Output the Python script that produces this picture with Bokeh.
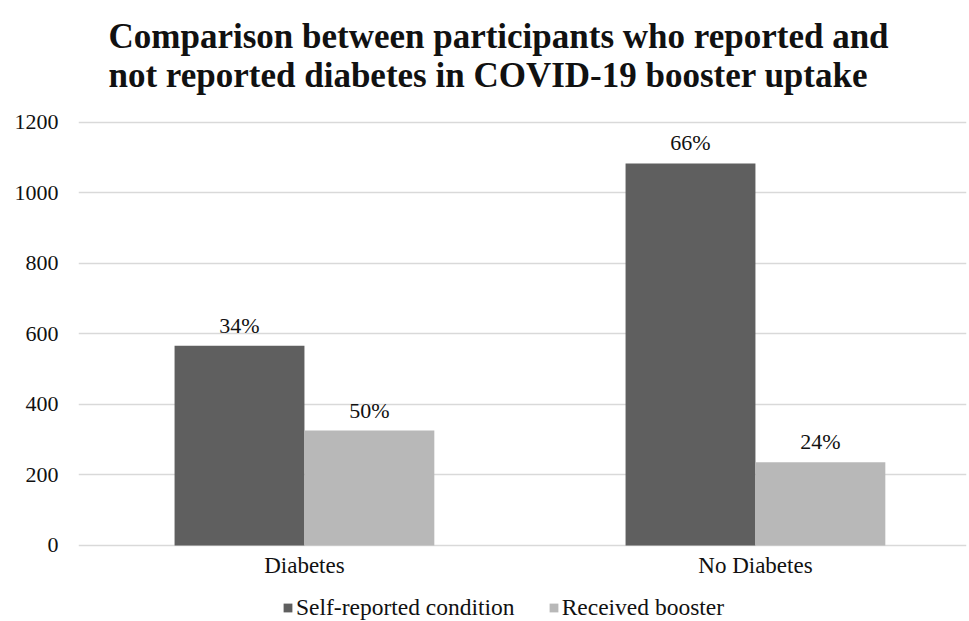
from bokeh.plotting import figure
from bokeh.models import (ColumnDataSource, Range1d, FixedTicker, LabelSet, Legend,
                          LegendItem, Title)
from bokeh.embed import file_html
from bokeh.resources import INLINE

categories = ["Diabetes", "No Diabetes"]
self_reported = [567, 1084]
received_booster = [326, 236]
self_reported_pct = ["34%", "66%"]
received_booster_pct = ["50%", "24%"]
y_ticks = [0, 200, 400, 600, 800, 1000, 1200]

FONT = "Liberation Serif"
DARK = "#5f5f5f"
LIGHT = "#b8b8b8"

xpos = list(range(len(categories)))
bw = 0.288
src1 = ColumnDataSource(dict(x=[v - bw / 2 for v in xpos], top=self_reported, lab=self_reported_pct))
src2 = ColumnDataSource(dict(x=[v + bw / 2 for v in xpos], top=received_booster, lab=received_booster_pct))
src_cat = ColumnDataSource(dict(x=xpos, y=[0] * len(xpos), lab=categories))

# frame spans 105..621 px; value 0 sits at 545 px and 1200 at 122 px
p = figure(width=969, height=621, output_backend="svg", toolbar_location=None,
           x_range=Range1d(-0.501, 1.468), y_range=Range1d(-215.6, 1248.2),
           min_border_left=78, min_border_right=3, min_border_top=105, min_border_bottom=0)
p.outline_line_color = None
p.background_fill_color = "white"
p.border_fill_color = "white"

p.title = Title(text="Comparison between participants who reported and\nnot reported diabetes in COVID-19 booster uptake",
                align="left", text_font=FONT, text_font_size="35px", text_font_style="bold",
                text_color="#111111", standoff=22, offset=30)

r1 = p.vbar(x="x", top="top", bottom=0, width=bw, source=src1, fill_color=DARK, line_color=None)
r2 = p.vbar(x="x", top="top", bottom=0, width=bw, source=src2, fill_color=LIGHT, line_color=None)

for s in (src1, src2):
    p.add_layout(LabelSet(x="x", y="top", text="lab", source=s, text_align="center",
                          text_baseline="bottom", y_offset=8, text_font=FONT,
                          text_font_size="22px", text_color="#111111"))

p.add_layout(LabelSet(x="x", y="y", text="lab", source=src_cat, text_align="center",
                      text_baseline="top", y_offset=-8, text_font=FONT,
                      text_font_size="23px", text_color="#111111"))

p.xgrid.grid_line_color = None
p.ygrid.grid_line_color = "#d9d9d9"
p.ygrid.grid_line_width = 1.6
p.yaxis.ticker = FixedTicker(ticks=y_ticks)
p.xaxis.visible = False

ax = p.yaxis[0]
ax.axis_line_color = None
ax.major_tick_line_color = None
ax.minor_tick_line_color = None
ax.major_tick_out = 0
ax.major_tick_in = 0
ax.major_label_text_font = FONT
ax.major_label_text_font_size = "22px"
ax.major_label_text_color = "#111111"
ax.major_label_standoff = 20

legend = Legend(items=[LegendItem(label="Self-reported condition", renderers=[r1]),
                       LegendItem(label="Received booster", renderers=[r2])],
                orientation="horizontal", location=(204, 0),
                glyph_width=11, glyph_height=11, label_standoff=3, spacing=33,
                label_text_font=FONT, label_text_font_size="23.5px", label_text_color="#111111",
                border_line_color=None, background_fill_alpha=0, padding=2, margin=0)
p.add_layout(legend)

open("out.html", "w").write(file_html(p, INLINE))
